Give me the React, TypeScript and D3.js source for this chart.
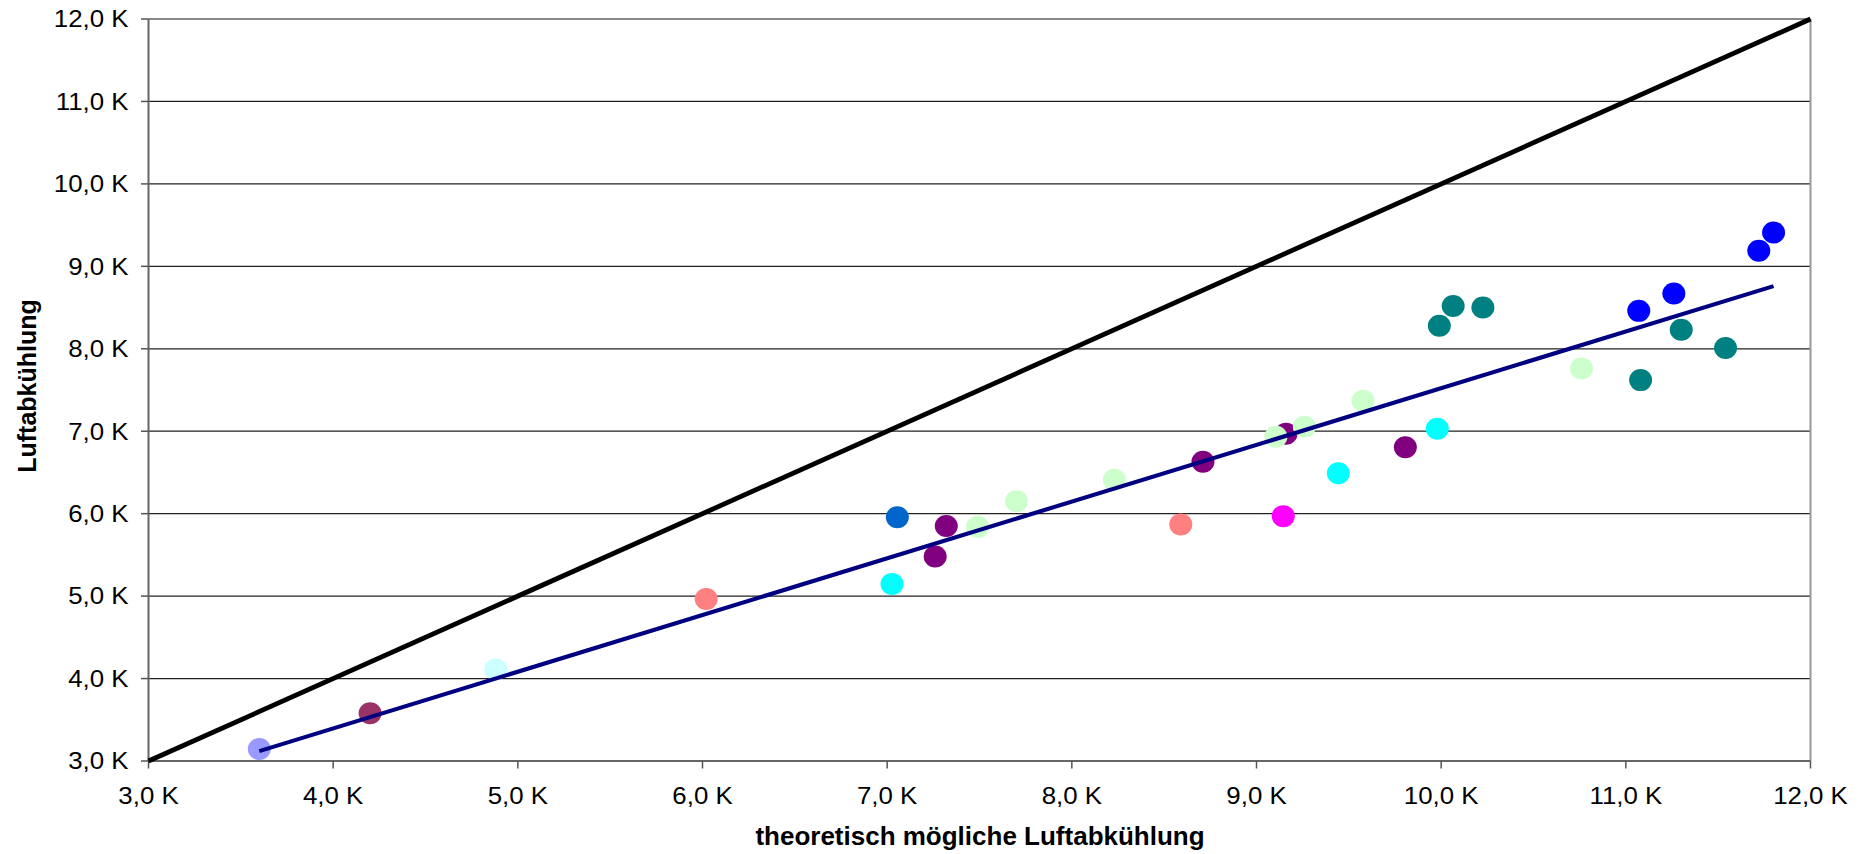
import React from "react";
import * as d3 from "d3";

// ---- data ----
const axisTicks = [3, 4, 5, 6, 7, 8, 9, 10, 11, 12];
const xTitle = "theoretisch mögliche Luftabkühlung";
const yTitle = "Luftabkühlung";

const seriesColors = [
  "#9999FF", "#993366", "#CCFFFF", "#FF8080", "#00FFFF", "#0066CC",
  "#800080", "#CCFFCC", "#FF00FF", "#008080", "#0000FF",
];

// each series: [theoretical cooling, measured cooling]
const s1: [number, number][] = [[3.6, 3.146]];
const s2: [number, number][] = [[4.2, 3.58]];
const s3: [number, number][] = [[4.88, 4.11]];
const s4: [number, number][] = [[6.02, 4.965], [8.59, 5.87]];
const s5: [number, number][] = [[7.026, 5.147], [9.443, 6.49], [9.979, 7.03]];
const s6: [number, number][] = [[7.055, 5.956]];
const s7: [number, number][] = [[7.26, 5.48], [7.32, 5.85], [8.71, 6.63], [9.16, 6.97], [9.806, 6.805]];
const s8: [number, number][] = [[7.49, 5.84], [7.7, 6.15], [8.23, 6.41], [9.105, 6.934], [9.259, 7.055], [9.577, 7.37], [10.76, 7.76]];
const s9: [number, number][] = [[9.145, 5.97]];
const s10: [number, number][] = [[9.99, 8.28], [10.065, 8.52], [10.226, 8.5], [11.08, 7.62], [11.3, 8.23], [11.54, 8.01]];
const s11: [number, number][] = [[11.07, 8.46], [11.26, 8.67], [11.72, 9.19], [11.8, 9.41]];
const allSeries = [s1, s2, s3, s4, s5, s6, s7, s8, s9, s10, s11];

const identityLine: [number, number][] = [[3, 3], [12, 12]];
const trendLine: [number, number][] = [[3.6, 3.12], [11.8, 8.76]];

const fmt = (v: number) => v.toFixed(1).replace(".", ",") + " K";

export default function App() {
  const W = 1866;
  const H = 854;
  const x = d3.scaleLinear().domain([3, 12]).range([148.5, 1810.5]);
  const y = d3.scaleLinear().domain([3, 12]).range([761, 19]);
  const line = d3
    .line<[number, number]>()
    .x((d) => x(d[0]))
    .y((d) => y(d[1]));
  const font = "'Liberation Sans', Arial, sans-serif";

  return (
    <svg
      width={W}
      height={H}
      style={{ position: "absolute", left: 0, top: 0, background: "#fff" }}
      fontFamily={font}
    >
      <rect x={0} y={0} width={W} height={H} fill="#fff" />
      {/* gridlines */}
      {axisTicks.slice(1, -1).map((t) => (
        <line key={"g" + t} x1={x(3)} x2={x(12)} y1={y(t)} y2={y(t)} stroke="#222" strokeWidth={1.3} />
      ))}
      {/* plot border */}
      <line x1={x(3)} x2={x(12)} y1={y(12)} y2={y(12)} stroke="#888" strokeWidth={2} />
      <line x1={x(12)} x2={x(12)} y1={y(12)} y2={y(3)} stroke="#999" strokeWidth={2} />
      <line x1={x(3)} x2={x(3)} y1={y(12)} y2={y(3)} stroke="#666" strokeWidth={2} />
      <line x1={x(3)} x2={x(12)} y1={y(3)} y2={y(3)} stroke="#666" strokeWidth={2} />
      {/* ticks */}
      {axisTicks.map((t) => (
        <g key={"t" + t}>
          <line x1={x(3) - 7.5} x2={x(3)} y1={y(t)} y2={y(t)} stroke="#555" strokeWidth={1.5} />
          <line x1={x(t)} x2={x(t)} y1={y(3)} y2={y(3) + 7.5} stroke="#555" strokeWidth={1.5} />
          <text
            transform={`translate(${128.5},${y(t) + 8.3}) scale(1.1,1)`}
            textAnchor="end"
            fontSize={23.5}
            fill="#000"
          >
            {fmt(t)}
          </text>
          <text
            transform={`translate(${x(t)},${804}) scale(1.1,1)`}
            textAnchor="middle"
            fontSize={23.5}
            fill="#000"
          >
            {fmt(t)}
          </text>
        </g>
      ))}
      {/* points */}
      {allSeries.map((s, i) =>
        s.map((d, j) => (
          <ellipse key={`p${i}-${j}`} cx={x(d[0])} cy={y(d[1])} rx={11.5} ry={11} fill={seriesColors[i]} />
        ))
      )}
      {/* lines */}
      <path d={line(identityLine) || ""} stroke="#000" strokeWidth={4.8} fill="none" />
      <path d={line(trendLine) || ""} stroke="#000080" strokeWidth={4.1} fill="none" />
      {/* titles */}
      <text x={980} y={845.3} textAnchor="middle" fontSize={26} fontWeight="bold" fill="#000">
        {xTitle}
      </text>
      <text
        transform={`translate(36,386) rotate(-90)`}
        textAnchor="middle"
        fontSize={25}
        fontWeight="bold"
        fill="#000"
      >
        {yTitle}
      </text>
    </svg>
  );
}
